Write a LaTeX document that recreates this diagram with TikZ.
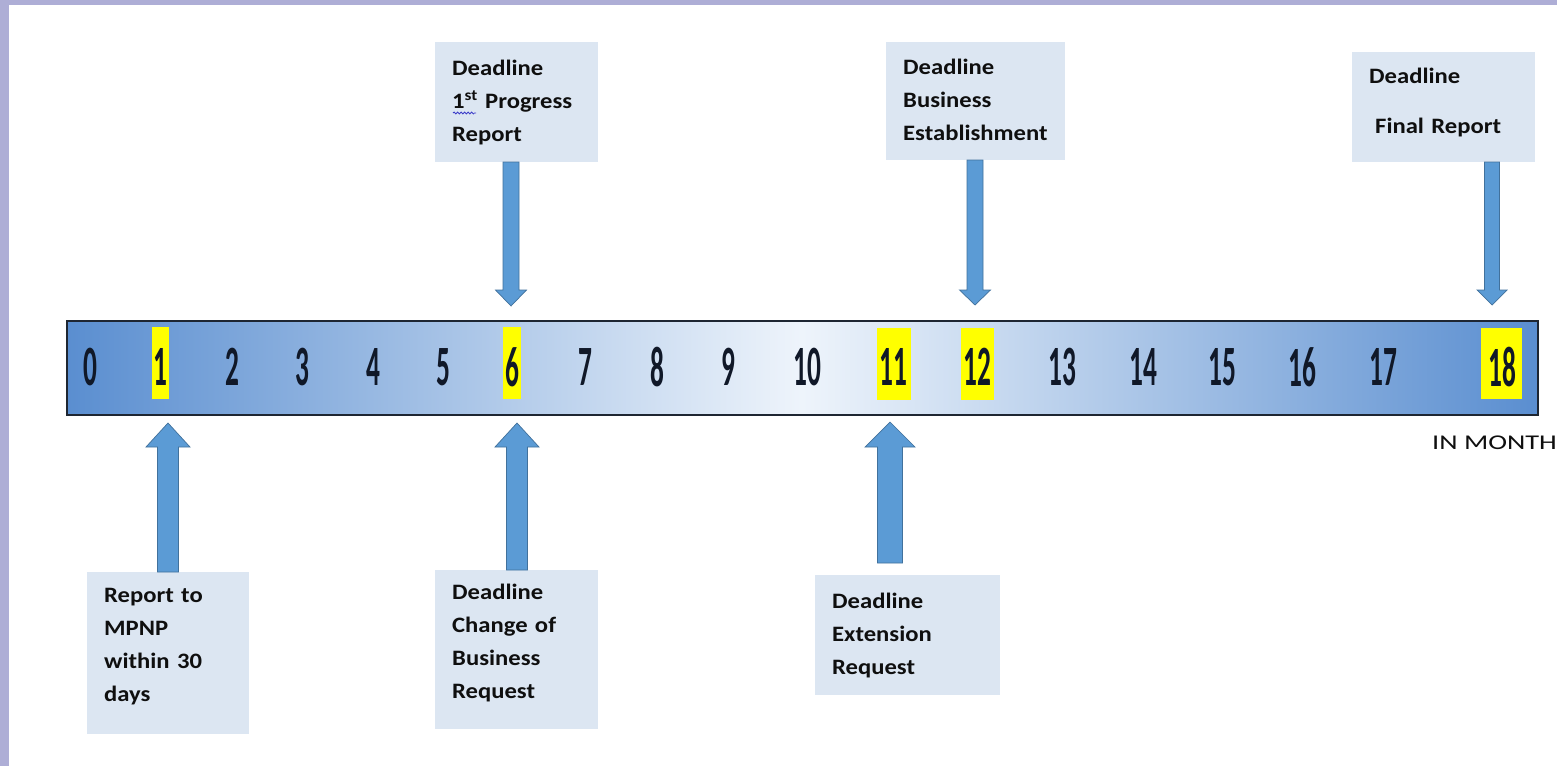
\documentclass[tikz,border=0pt]{standalone}
\usepackage{fontspec}
\setmainfont{Carlito}
\newfontfamily\boxfont[FakeStretch=1.12]{Carlito}
\newfontfamily\numfont[FakeStretch=0.48]{Carlito}
\newfontfamily\unitfont[FakeStretch=1.35]{Carlito}
\usetikzlibrary{decorations.pathmorphing}
\definecolor{frame}{RGB}{174,174,214}
\definecolor{boxfill}{RGB}{220,230,242}
\definecolor{arrowfill}{RGB}{91,155,213}
\definecolor{arrowline}{RGB}{65,113,156}
\definecolor{barend}{RGB}{90,142,208}
\definecolor{barmid}{RGB}{238,244,251}
\definecolor{hl}{RGB}{255,255,0}
\definecolor{numcol}{RGB}{16,24,40}
\definecolor{txt}{RGB}{15,15,15}
\definecolor{squig}{RGB}{60,60,200}
\newcommand\blockarrow[6]{%
  \filldraw[arrowstyle] (#1-#5,#2) -- (#1+#5,#2) -- (#1+#5,#3) -- (#1+#6,#3)
    -- (#1,#4) -- (#1-#6,#3) -- (#1-#5,#3) -- cycle;}
\newcommand\lowpad[1]{\rule[-#1]{0pt}{#1}}
\tikzset{
  arrowstyle/.style={fill=arrowfill, draw=arrowline, line width=0.7pt, line join=miter},
  barstyle/.style={draw={rgb,255:red,30;green,38;blue,50}, line width=1.5pt,
    left color=barend, right color=barend, middle color=barmid},
  numstyle/.style={inner sep=0pt, text=numcol, font=\numfont\bfseries\fontsize{57}{57}\selectfont},
  boxstyle/.style={fill=boxfill, inner sep=0pt, align=left, anchor=north west, text=txt,
    font=\boxfont\bfseries\fontsize{22}{33}\selectfont},
}
\begin{document}
\begin{tikzpicture}[x=1pt,y=-1pt]
\useasboundingbox (0,0) rectangle (1557,766);
\fill[frame] (0,0) rectangle (1557,766);
\fill[white] (9,5) rectangle (1557,766);

% timeline bar
\node[barstyle, anchor=north west, minimum width=1471pt, minimum height=94pt, inner sep=0pt] (bar) at (66,320) {};

% highlights
\fill[hl] (152,327) rectangle (169,399);
\fill[hl] (503,327) rectangle (521,399);
\fill[hl] (877,328) rectangle (911,400);
\fill[hl] (961,328) rectangle (994,400);
\fill[hl] (1481,328) rectangle (1522,399);

% month numbers
\foreach \n/\x in {0/90,1/160,2/232,3/302,4/373,5/443,6/512,7/585,8/657,9/728,10/807,11/893,12/977,13/1062,14/1143,15/1222,16/1302,17/1383,18/1502}
  \node[numstyle] (n\n) at (\x,367) {\n};

% top boxes
\node[boxstyle, minimum width=163pt, minimum height=120pt, text width=129pt] (t6) at (435,42)
  {Deadline\\1\textsuperscript{st} Progress\\Report\lowpad{3pt}};
\node[boxstyle, minimum width=179pt, minimum height=118pt, text width=145pt] (t12) at (886,42)
  {Deadline\\Business\\Establishment\lowpad{3pt}};
\node[boxstyle, minimum width=183pt, minimum height=110pt, text width=149pt] (t18) at (1352,52)
  {Deadline\\[17pt]\hspace*{6pt}Final Report\lowpad{12pt}};

% bottom boxes
\node[boxstyle, minimum width=162pt, minimum height=162pt, text width=128pt] (b1) at (87,572)
  {Report to\\MPNP\\within 30\\days\lowpad{16pt}};
\node[boxstyle, minimum width=163pt, minimum height=159pt, text width=129pt] (b6) at (435,570)
  {Deadline\\Change of\\Business\\Request\lowpad{17pt}};
\node[boxstyle, minimum width=185pt, minimum height=120pt, text width=151pt] (b11) at (815,575)
  {Deadline\\Extension\\Request};

% spell-check squiggle
\draw[squig, line width=0.8pt, decorate, decoration={snake, amplitude=1pt, segment length=3.5pt}] (453,113) -- (476,113);

% block arrows: x, start, head base, tip, shaft half width, head half width
\blockarrow{511}{162}{290}{306}{8}{15.5}
\blockarrow{975}{160}{290}{305}{8}{15.5}
\blockarrow{1492}{162}{290}{305}{7.5}{15}
\blockarrow{168}{572}{447}{423}{10.5}{22}
\blockarrow{517}{570}{447}{423}{10.5}{22}
\blockarrow{890}{563}{447}{422}{12.5}{25}

% unit label
\node[anchor=west, inner sep=0pt, text=txt, font=\unitfont\fontsize{21}{21}\selectfont] (unit) at (1432,443) {IN MONTH};
\end{tikzpicture}
\end{document}
